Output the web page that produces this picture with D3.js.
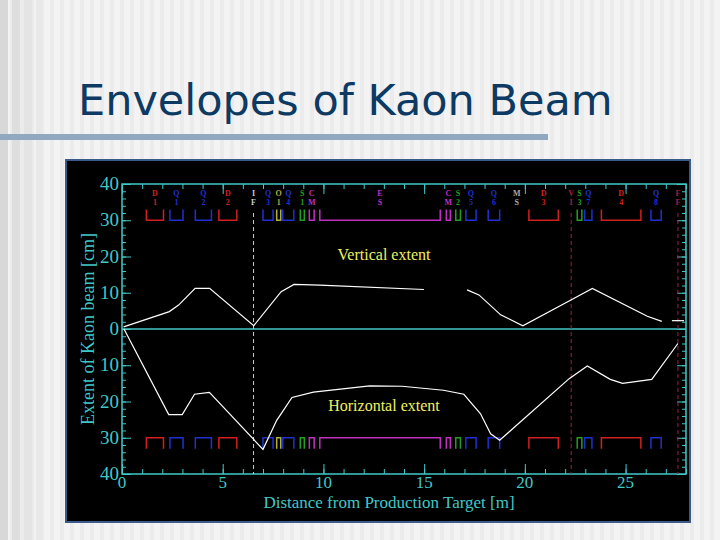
<!DOCTYPE html>
<html><head><meta charset="utf-8">
<script src="https://cdn.jsdelivr.net/npm/d3@7"></script>
<style>body{margin:0;background:#f4f4f4;}svg{display:block;}</style>
</head><body>
<script>
// vertical envelope [m, cm]
const vertical = [[0.08,0.6],[2.35,4.8],[2.81,6.6],[3.63,11.2],[4.35,11.2],[6.54,0.9],[7.9,10.3],[8.54,12.3],[9.81,12.1],[14.99,10.9]];
const vertical2 = [[17.13,10.8],[17.72,9.4],[18.8,3.9],[19.9,0.9],[22.45,8.5],[23.35,11.2],[26.08,3.5],[26.8,2.1]];
const vertical3 = [[27.3,2.3],[27.9,2.3]];
// horizontal envelope [m, cm]
const horizontal = [[0.1,0],[2.32,23.6],[2.99,23.6],[3.6,18],[4.34,17.5],[7.0,33.2],[7.68,25.2],[8.44,18.9],[9.5,17.4],[12.3,15.7],[13.9,15.8],[15.96,16.9],[16.97,18],[17.8,23.4],[18.3,28.9],[18.75,30.7],[22.2,13.7],[23.1,10.2],[24.24,13.9],[24.85,15],[26.3,13.9],[27.6,4]];
// beamline elements: label, start, end, colour
const elements = [
  ["D1",1.21,2.06,"#d02020"],["Q1",2.38,3.03,"#2030d0"],["Q2",3.64,4.44,"#2030d0"],["D2",4.81,5.7,"#d02020"],
  ["Q3",7.0,7.5,"#2030d0"],["O1",7.68,7.88,"#b0b040"],["Q4",7.98,8.53,"#2030d0"],["S1",8.85,9.05,"#20a020"],
  ["CM",9.3,9.54,"#c030c0"],["ES",9.82,15.8,"#c030c0"],["CM",16.1,16.3,"#c030c0"],["S2",16.57,16.8,"#20a020"],
  ["Q5",17.07,17.58,"#2030d0"],["Q6",18.18,18.75,"#2030d0"],["D3",20.2,21.66,"#d02020"],["S3",22.6,22.83,"#20a020"],
  ["Q7",22.97,23.33,"#2030d0"],["D4",23.8,25.76,"#d02020"],["Q8",26.26,26.77,"#2030d0"]];
const markers = [["IF",6.53,"#cccccc",true],["MS",19.6,"#aaaaaa",false],["VI",22.3,"#a02040",true],["FF",27.6,"#a02040",true]];
const xTicks = [0,5,10,15,20,25];
const yTicks = [-40,-30,-20,-10,0,10,20,30,40];

const svg = d3.select("body").append("svg").attr("width",720).attr("height",540);
// slide background stripes
svg.append("rect").attr("width",720).attr("height",540).attr("fill","#f3f3f3");
for (let i=0;i<72;i++) svg.append("rect").attr("x",i*10).attr("width",4).attr("height",540).attr("fill","#ebebeb");
[[0,8,"#d8d8d8"],[12,8,"#dedede"],[24,8,"#e4e4e4"],[36,6,"#e8e8e8"]].forEach(s=>
  svg.append("rect").attr("x",s[0]).attr("width",s[1]).attr("height",540).attr("fill",s[2]));
svg.append("text").attr("x",78).attr("y",115).attr("font-family","DejaVu Sans").attr("font-size",43)
  .attr("fill","#0d3a63").text("Envelopes of Kaon Beam");
svg.append("rect").attr("x",0).attr("y",134).attr("width",548).attr("height",6).attr("fill","#90a8c0");

svg.append("rect").attr("x",66).attr("y",160).attr("width",624).attr("height",362).attr("fill","#000").attr("stroke","#3a5a8a").attr("stroke-width",2);

const x = d3.scaleLinear().domain([0,28]).range([122,686]);
const y = d3.scaleLinear().domain([40,-40]).range([184,474]); // positive = vertical (up)
const cyan = "#40c8c8", serif = "Liberation Serif";

const g = svg.append("g");
g.append("rect").attr("x",x(0)).attr("y",y(40)).attr("width",x(28)-x(0)).attr("height",y(-40)-y(40))
  .attr("fill","none").attr("stroke",cyan).attr("stroke-width",1.5);
g.append("line").attr("x1",x(0)).attr("x2",x(28)).attr("y1",y(0)).attr("y2",y(0)).attr("stroke",cyan).attr("stroke-width",1.5);

g.append("g").attr("transform",`translate(0,${y(-40)})`).call(d3.axisBottom(x).tickValues(d3.range(0,29)).tickSize(-5).tickFormat(""));
g.append("g").attr("transform",`translate(0,${y(40)})`).call(d3.axisTop(x).tickValues(d3.range(0,29)).tickSize(-5).tickFormat(""));
g.append("g").attr("transform",`translate(0,${y(-40)})`).call(d3.axisBottom(x).tickValues(xTicks).tickSize(-10).tickFormat(""));
g.append("g").attr("transform",`translate(0,${y(40)})`).call(d3.axisTop(x).tickValues(xTicks).tickSize(-10).tickFormat(""));
g.append("g").attr("transform",`translate(${x(0)},0)`).call(d3.axisLeft(y).tickValues(d3.range(-40,41,2)).tickSize(-4).tickFormat(""));
g.append("g").attr("transform",`translate(${x(28)},0)`).call(d3.axisRight(y).tickValues(d3.range(-40,41,2)).tickSize(-4).tickFormat(""));
g.append("g").attr("transform",`translate(${x(0)},0)`).call(d3.axisLeft(y).tickValues(yTicks).tickSize(-9).tickFormat(""));
g.append("g").attr("transform",`translate(${x(28)},0)`).call(d3.axisRight(y).tickValues(yTicks).tickSize(-9).tickFormat(""));
g.selectAll(".domain").remove();
g.selectAll(".tick line").attr("stroke",cyan);

g.selectAll(".xl").data(xTicks).join("text").attr("x",d=>x(d)).attr("y",y(-40)+14).attr("text-anchor","middle")
  .attr("font-family",serif).attr("font-size",17).attr("fill",cyan).text(d=>d);
g.selectAll(".yl").data(yTicks).join("text").attr("x",x(0)-3).attr("y",d=>y(d)+6).attr("text-anchor","end")
  .attr("font-family",serif).attr("font-size",19).attr("fill",cyan).text(d=>Math.abs(d));
g.append("text").attr("x",389).attr("y",508).attr("text-anchor","middle").attr("font-family",serif)
  .attr("font-size",17).attr("fill",cyan).text("Distance from Production Target [m]");
g.append("text").attr("transform",`translate(94,${y(0)}) rotate(-90)`).attr("text-anchor","middle")
  .attr("font-family",serif).attr("font-size",18).attr("fill",cyan).text("Extent of Kaon beam [cm]");

// marker dashed lines
markers.filter(m=>m[3]).forEach(m=>{
  g.append("line").attr("x1",x(m[1])).attr("x2",x(m[1])).attr("y1",y(32)).attr("y2",y(-40))
    .attr("stroke",m[2]).attr("stroke-dasharray","4,3").attr("stroke-width",1);
});
// elements: top (vertical) and bottom (horizontal)
elements.forEach(e=>{
  const x0=x(e[1]), x1=x(e[2]);
  g.append("path").attr("d",`M${x0},${y(33)}V${y(30)}H${x1}V${y(33)}`).attr("fill","none").attr("stroke",e[3]).attr("stroke-width",1.5);
  g.append("path").attr("d",`M${x0},${y(-33)}V${y(-30)}H${x1}V${y(-33)}`).attr("fill","none").attr("stroke",e[3]).attr("stroke-width",1.5);
});
const labs = elements.map(e=>[e[0],(e[1]+e[2])/2,e[3]]).concat(markers.map(m=>[m[0],m[1],m[2]]));
labs.forEach(l=>{
  [0,1].forEach(i=>g.append("text").attr("x",x(l[1])).attr("y",y(i?34.3:36.8)).attr("text-anchor","middle")
    .attr("font-family",serif).attr("font-size",8).attr("font-weight","bold").attr("fill",l[2]).text(l[0][i]));
});

const line = d3.line().x(d=>x(d[0])).y(d=>y(d[1]));
const lineH = d3.line().x(d=>x(d[0])).y(d=>y(-d[1]));
[vertical,vertical2,vertical3].forEach(s=>g.append("path").attr("d",line(s)).attr("fill","none").attr("stroke","#fff").attr("stroke-width",1.2));
g.append("path").attr("d",lineH(horizontal)).attr("fill","none").attr("stroke","#fff").attr("stroke-width",1.2);

g.append("text").attr("x",384).attr("y",260).attr("text-anchor","middle").attr("font-family",serif).attr("font-size",16).attr("fill","#f0f060").text("Vertical extent");
g.append("text").attr("x",384).attr("y",411).attr("text-anchor","middle").attr("font-family",serif).attr("font-size",16).attr("fill","#f0f060").text("Horizontal extent");
</script>
</body></html>
